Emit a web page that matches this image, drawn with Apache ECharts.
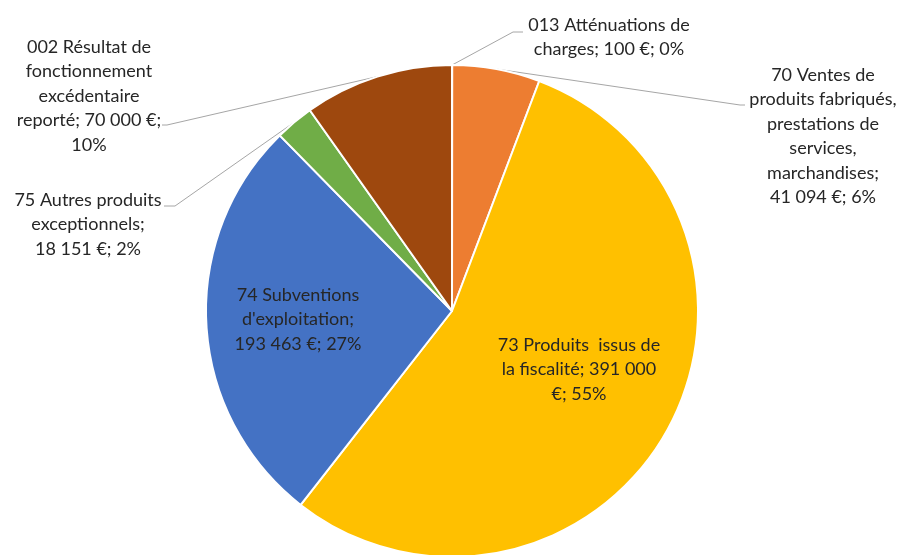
<!DOCTYPE html>
<html>
<head>
<meta charset="utf-8">
<script src="https://cdn.jsdelivr.net/npm/echarts@6/dist/echarts.min.js"></script>
<style>
html,body{margin:0;padding:0;background:#fff;}
#chart{width:905px;height:555px;}
</style>
</head>
<body>
<div id="chart"></div>
<script>
// ---- data ----
var categories = [
  "013 Atténuations de charges",
  "70 Ventes de produits fabriqués, prestations de services, marchandises",
  "73 Produits  issus de la fiscalité",
  "74 Subventions d'exploitation",
  "75 Autres produits exceptionnels",
  "002 Résultat de fonctionnement excédentaire reporté"
];
var values = [100, 41094, 391000, 193463, 18151, 70000];
var valueLabels = ["100 €", "41 094 €", "391 000 €", "193 463 €", "18 151 €", "70 000 €"];
var percentLabels = ["0%", "6%", "55%", "27%", "2%", "10%"];
// wrapped label text as shown in the chart
var labelTexts = [
  "013 Atténuations de\ncharges; 100 €; 0%",
  "70 Ventes de\nproduits fabriqués,\nprestations de\nservices,\nmarchandises;\n41 094 €; 6%",
  "73 Produits  issus de\nla fiscalité; 391 000\n€; 55%",
  "74 Subventions\nd'exploitation;\n193 463 €; 27%",
  "75 Autres produits\nexceptionnels;\n18 151 €; 2%",
  "002 Résultat de\nfonctionnement\nexcédentaire\nreporté; 70 000 €;\n10%"
];
var colors = ["#4472C4", "#ED7D31", "#FFC000", "#4472C4", "#70AD47", "#9E480E"];

// ---- layout (label placement, not data) ----
var labelPos = [
  {x: 609, y: 13},
  {x: 823, y: 63},
  {x: 579, y: 333},
  {x: 298, y: 283},
  {x: 88, y: 188},
  {x: 89, y: 35}
];
var insideIdx = [2, 3];
var lineEnds = [
  [[513, 32], [523, 32]],
  [[740, 105], [745, 105]],
  null,
  null,
  [[175, 206], [164, 206]],
  [[167, 125], [162, 125]]
];

var chart = echarts.init(document.getElementById('chart'), null, {renderer: 'canvas'});

var seriesData = categories.map(function (c, i) {
  var inside = insideIdx.indexOf(i) >= 0;
  return {
    name: c,
    value: values[i],
    itemStyle: {color: colors[i]},
    label: {position: inside ? 'inside' : 'outside'},
    labelLine: {show: !inside}
  };
});

chart.setOption({
  animation: false,
  backgroundColor: '#ffffff',
  series: [{
    type: 'pie',
    center: [452, 311],
    radius: 246,
    startAngle: 90,
    clockwise: true,
    avoidLabelOverlap: false,
    minShowLabelAngle: 0,
    itemStyle: {borderColor: '#ffffff', borderWidth: 2},
    label: {
      show: true,
      formatter: function (p) { return labelTexts[p.dataIndex]; },
      fontFamily: 'Lato',
      fontSize: 18,
      lineHeight: 24.4,
      color: '#262626',
      align: 'center'
    },
    labelLine: {
      show: true,
      length: 20,
      length2: 10,
      lineStyle: {color: '#A6A6A6', width: 1}
    },
    labelLayout: function (params) {
      var i = params.dataIndex;
      var pos = labelPos[i];
      var res = {x: pos.x, y: pos.y, align: 'center', verticalAlign: 'top'};
      if (lineEnds[i] && params.labelLinePoints) {
        var p0 = params.labelLinePoints[0];
        res.labelLinePoints = [[p0[0], p0[1]], lineEnds[i][0], lineEnds[i][1]];
      }
      return res;
    },
    data: seriesData
  }]
});
</script>
</body>
</html>
